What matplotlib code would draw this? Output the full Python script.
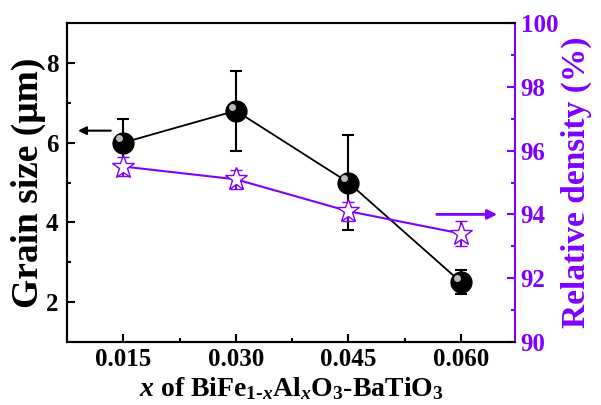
import numpy as np
import matplotlib.pyplot as plt
import matplotlib.transforms as mtransforms

# BiFe(1-x)Al(x)O3-BaTiO3: grain size and relative density vs x
x_vals = [0.015, 0.030, 0.045, 0.060]
grain_size = [6.0, 6.8, 5.0, 2.5]
grain_err = [0.6, 1.0, 1.2, 0.3]
density = [95.5, 95.1, 94.1, 93.4]
density_err = [0.3, 0.3, 0.3, 0.4]
x_ticks = [0.015, 0.030, 0.045, 0.060]
x_tick_labels = ['0.015', '0.030', '0.045', '0.060']

PURPLE = '#7F00FF'
plt.rcParams['font.family'] = ['Liberation Serif', 'DejaVu Serif']
plt.rcParams['font.weight'] = 'bold'
plt.rcParams['mathtext.fontset'] = 'custom'
plt.rcParams['mathtext.rm'] = 'Liberation Serif:bold'
plt.rcParams['mathtext.it'] = 'Liberation Serif:bold:italic'
plt.rcParams['mathtext.bf'] = 'Liberation Serif:bold'

fig = plt.figure(figsize=(6.01, 4.05), dpi=100)
ax = fig.add_axes([67 / 601, 1 - 342 / 405, 448 / 601, 319 / 405])
ax2 = ax.twinx()

# grain size (left axis)
ax.errorbar(x_vals, grain_size, yerr=grain_err, color='black', lw=1.3,
            capsize=4, capthick=1.5, elinewidth=1.5, marker='o', ms=15,
            mfc='black', mec='black', zorder=3)
# highlight on the spheres
hl = mtransforms.ScaledTranslation(-3 / 72, 3 / 72, fig.dpi_scale_trans)
ax.plot(x_vals, grain_size, ls='none', marker='o', ms=5, mfc='#bbbbbb',
        mec='none', transform=ax.transData + hl, zorder=4)

# relative density (right axis)
ax2.errorbar(x_vals, density, yerr=density_err, color=PURPLE, lw=1.5,
             capsize=4, capthick=1.5, elinewidth=1.5, marker='*', ms=17,
             mfc='white', mec=PURPLE, mew=1.0, zorder=3)

# arrows pointing to the axes
ax.annotate('', xy=(0.0086, 6.3), xytext=(0.0137, 6.3),
            arrowprops=dict(arrowstyle='-|>', color='black', lw=1.5,
                            mutation_scale=12))
ax2.annotate('', xy=(0.0652, 94.0), xytext=(0.0564, 94.0),
             arrowprops=dict(arrowstyle='-|>', color=PURPLE, lw=2,
                             mutation_scale=14))

ax.set_xlim(0.0075, 0.0672)
ax.set_ylim(1, 9)
ax2.set_ylim(90, 100)

ax.set_xticks(x_ticks)
ax.set_xticklabels(x_tick_labels)
ax.set_xticks([0.0225, 0.0375, 0.0525], minor=True)
ax.set_yticks([2, 4, 6, 8])
ax.set_yticks([3, 5, 7], minor=True)
ax2.set_yticks([90, 92, 94, 96, 98, 100])
ax2.set_yticks([91, 93, 95, 97, 99], minor=True)

ax.tick_params(axis='both', which='both', direction='in', labelsize=18,
               width=1.5)
ax.tick_params(which='major', length=6)
ax.tick_params(which='minor', length=3)
ax.tick_params(axis='y', pad=6)
ax.tick_params(axis='x', pad=4)
ax2.tick_params(axis='y', which='both', direction='in', labelsize=18,
                width=1.5, colors=PURPLE, pad=4)
ax2.tick_params(which='major', length=6)
ax2.tick_params(which='minor', length=3)

for s in ['left', 'bottom', 'top']:
    ax.spines[s].set_linewidth(1.5)
    ax2.spines[s].set_linewidth(1.5)
ax2.spines['right'].set_color(PURPLE)
ax2.spines['right'].set_linewidth(1.5)
ax.spines['right'].set_visible(False)

ax.set_ylabel('Grain size (\u03bcm)', fontsize=27, fontweight='bold',
              labelpad=0)
ax2.set_ylabel('Relative density (%)', fontsize=24, fontweight='bold',
               color=PURPLE, labelpad=2)
ax.set_xlabel(r'$x$ of BiFe$_{\mathregular{1\text{-}}x}$Al$_x$O$_3$-BaTiO$_3$',
              fontsize=20, fontweight='bold', labelpad=3)

fig.savefig('out.png', dpi=100)
